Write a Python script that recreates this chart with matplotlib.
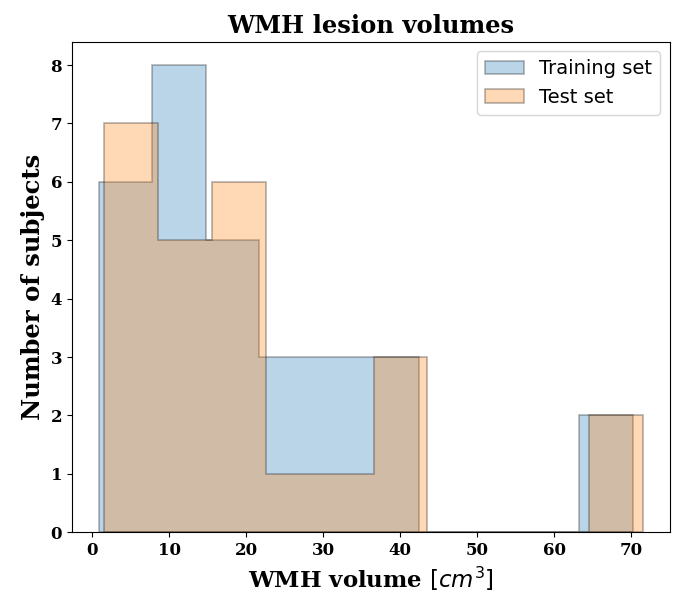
import numpy as np
import matplotlib.pyplot as plt

# Histogram ranges (cm^3) and counts per bin (10 bins each).
train_range = (0.87, 70.2)
train_counts = [6, 8, 5, 3, 3, 3, 0, 0, 0, 2]
test_range = (1.56, 71.5)
test_counts = [7, 5, 6, 1, 1, 3, 0, 0, 0, 2]
labels = ['Training set', 'Test set']

serif = {'family': 'DejaVu Serif', 'weight': 'bold'}

fig = plt.figure(figsize=(6.78, 5.96), dpi=100)
ax = fig.add_axes([0.106, 0.107, 0.882, 0.823])

for rng, counts, lab in [(train_range, train_counts, labels[0]),
                         (test_range, test_counts, labels[1])]:
    edges = np.linspace(rng[0], rng[1], len(counts) + 1)
    ax.hist(edges[:-1], bins=edges, weights=counts, alpha=0.3,
            histtype='stepfilled', edgecolor='k', linewidth=1.2, label=lab)

ax.set_title('WMH lesion volumes', fontdict=dict(serif, size=17.5))
ax.set_xlabel('WMH volume $[cm^3]$', fontdict=dict(serif, size=16.5))
ax.set_ylabel('Number of subjects', fontdict=dict(serif, size=17.5))
for lbl in ax.get_xticklabels() + ax.get_yticklabels():
    lbl.set_fontfamily('DejaVu Serif')
    lbl.set_fontweight('bold')
    lbl.set_fontsize(12)
ax.legend(fontsize=14)

fig.savefig('out.png', dpi=100)
